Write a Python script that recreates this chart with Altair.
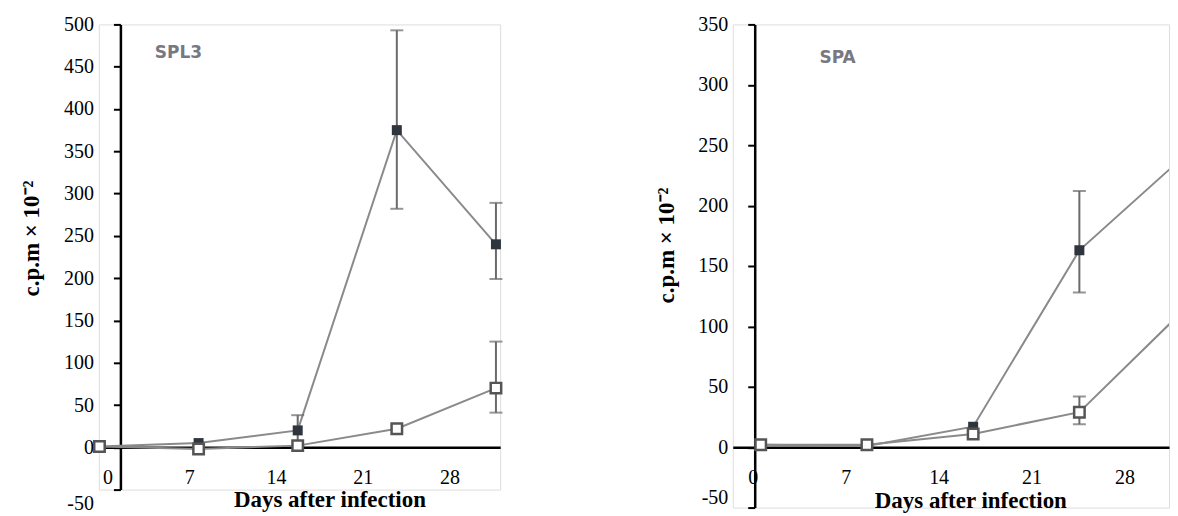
import altair as alt
import pandas as pd

# ---------------- data ----------------
days = [0, 8, 16, 24, 32]
x_tick_values = [0, 7, 14, 21, 28]

# SPL3 panel
spl3_filled = [1, 5, 20, 375, 240]
spl3_filled_lo = [None, None, 2, 282, 199]
spl3_filled_hi = [None, None, 38, 493, 289]
spl3_open = [1, -2, 2, 22, 70]
spl3_open_lo = [None, None, None, None, 41]
spl3_open_hi = [None, None, None, None, 125]
spl3_y_ticks = [-50, 0, 50, 100, 150, 200, 250, 300, 350, 400, 450, 500]

# SPA panel
spa_filled = [2, 1, 17, 163, 242]
spa_filled_lo = [None, None, None, 128, 160]
spa_filled_hi = [None, None, None, 212, 325]
spa_open = [2, 2, 11, 29, 115]
spa_open_lo = [None, None, None, 19, 55]
spa_open_hi = [None, None, None, 42, 172]
spa_y_ticks = [-50, 0, 50, 100, 150, 200, 250, 300, 350]

Y_TITLE = "c.p.m × 10⁻²"
X_TITLE = "Days after infection"

SERIF = "Liberation Serif"
LINE_COL = "#8a8a8a"
ERR_COL = "#6a6a6a"
FILL_COL = "#2f353d"
OPEN_STROKE = "#555555"
HYPHEN_EXPR = "datum.value < 0 ? '-' + abs(datum.value) : datum.label"


def make_panel(label, label_day, label_val,
               f_vals, f_lo, f_hi, o_vals, o_lo, o_hi,
               xdom, ydom, yvals, w, h,
               y_axis_off, x_axis_off,
               ytitle_x, ytitle_y, xtitle_x, xtitle_y,
               xlab_off, xlab_pad, neg_lab_off, clip):
    rows = []
    for d, v, lo, hi in zip(days, f_vals, f_lo, f_hi):
        rows.append(dict(day=d, value=v, lo=lo, hi=hi, series="filled"))
    for d, v, lo, hi in zip(days, o_vals, o_lo, o_hi):
        rows.append(dict(day=d, value=v, lo=lo, hi=hi, series="open"))
    df = pd.DataFrame(rows)
    err = df.dropna(subset=["lo"]).copy()
    caps = pd.concat([
        err[["day", "series"]].assign(cap=err["lo"]),
        err[["day", "series"]].assign(cap=err["hi"]),
    ])
    lab = pd.DataFrame({"day": [label_day], "value": [label_val], "txt": [label]})

    x_axis = alt.Axis(
        values=x_tick_values, title=X_TITLE, offset=x_axis_off,
        ticks=False, tickSize=0, grid=False,
        labelPadding=xlab_pad, labelBaseline="middle", labelOffset=xlab_off,
        labelFont=SERIF, labelFontSize=20, labelColor="black",
        titleFont=SERIF, titleFontSize=23, titleFontWeight="bold", titleColor="black",
        titleX=xtitle_x, titleY=xtitle_y, titleBaseline="middle",
        domainColor="black", domainWidth=2.5,
    )
    y_axis = alt.Axis(
        values=yvals, title=Y_TITLE, offset=y_axis_off,
        tickSize=7, tickWidth=2, tickColor="black", grid=False,
        labelPadding=20, labelFont=SERIF, labelFontSize=20, labelColor="black",
        labelExpr=HYPHEN_EXPR,
        labelOffset={"condition": {"test": "datum.value < 0", "value": neg_lab_off}, "value": 0},
        titleFont=SERIF, titleFontSize=23, titleFontWeight="bold", titleColor="black",
        titleX=ytitle_x, titleY=ytitle_y, titleBaseline="middle",
        domainColor="black", domainWidth=2.5,
    )

    def X():
        return alt.X("day:Q", scale=alt.Scale(domain=xdom, nice=False, zero=False), axis=x_axis)

    def Y(field):
        return alt.Y(f"{field}:Q", scale=alt.Scale(domain=ydom, nice=False, zero=False), axis=y_axis)

    lines = alt.Chart(df).mark_line(color=LINE_COL, strokeWidth=2, clip=clip).encode(
        x=X(), y=Y("value"), detail="series:N")
    bars = alt.Chart(err).mark_rule(color=ERR_COL, strokeWidth=2, clip=clip).encode(
        x=X(), y=Y("lo"), y2="hi:Q")
    capm = alt.Chart(caps).mark_tick(orient="horizontal", size=13, thickness=2,
                                     color=ERR_COL, clip=clip).encode(
        x=X(), y=Y("cap"))
    filled_pts = alt.Chart(df[df.series == "filled"]).mark_point(
        shape="square", filled=True, color=FILL_COL, size=100, opacity=1, clip=clip
    ).encode(x=X(), y=Y("value"))
    open_pts = alt.Chart(df[df.series == "open"]).mark_point(
        shape="square", filled=True, color="white", stroke=OPEN_STROKE,
        strokeWidth=2.5, size=110, opacity=1, clip=clip
    ).encode(x=X(), y=Y("value"))
    text = alt.Chart(lab).mark_text(
        font="DejaVu Sans", fontSize=17, fontWeight="bold", color="#787882",
        align="center", baseline="middle"
    ).encode(x=X(), y=Y("value"), text="txt:N")

    return alt.layer(lines, bars, capm, filled_pts, open_pts, text).properties(width=w, height=h)


left = make_panel("SPL3", 6.37, 466,
                  spl3_filled, spl3_filled_lo, spl3_filled_hi,
                  spl3_open, spl3_open_lo, spl3_open_hi,
                  xdom=[-0.05, 32.34], ydom=[-50, 500], yvals=spl3_y_ticks,
                  w=402, h=466, y_axis_off=-21.6, x_axis_off=-42.4,
                  ytitle_x=-89, ytitle_y=214, xtitle_x=231, xtitle_y=52,
                  xlab_off=3, xlab_pad=30, neg_lab_off=14, clip=False)

right = make_panel("SPA", 5.79, 322,
                   spa_filled, spa_filled_lo, spa_filled_hi,
                   spa_open, spa_open_lo, spa_open_hi,
                   xdom=[-2.105, 30.75], ydom=[-50, 350], yvals=spa_y_ticks,
                   w=437, h=484, y_axis_off=-22, x_axis_off=-60.5,
                   ytitle_x=-88, ytitle_y=221, xtitle_x=238, xtitle_y=53,
                   xlab_off=-8, xlab_pad=30, neg_lab_off=-10, clip=True)

chart = alt.hconcat(left, right, spacing=148).properties(
    padding={"left": 12, "top": 5, "right": 0, "bottom": 0}
).configure_view(stroke="transparent").configure(background="white")

chart.save("out.html", embed_options={"renderer": "svg", "actions": False})
